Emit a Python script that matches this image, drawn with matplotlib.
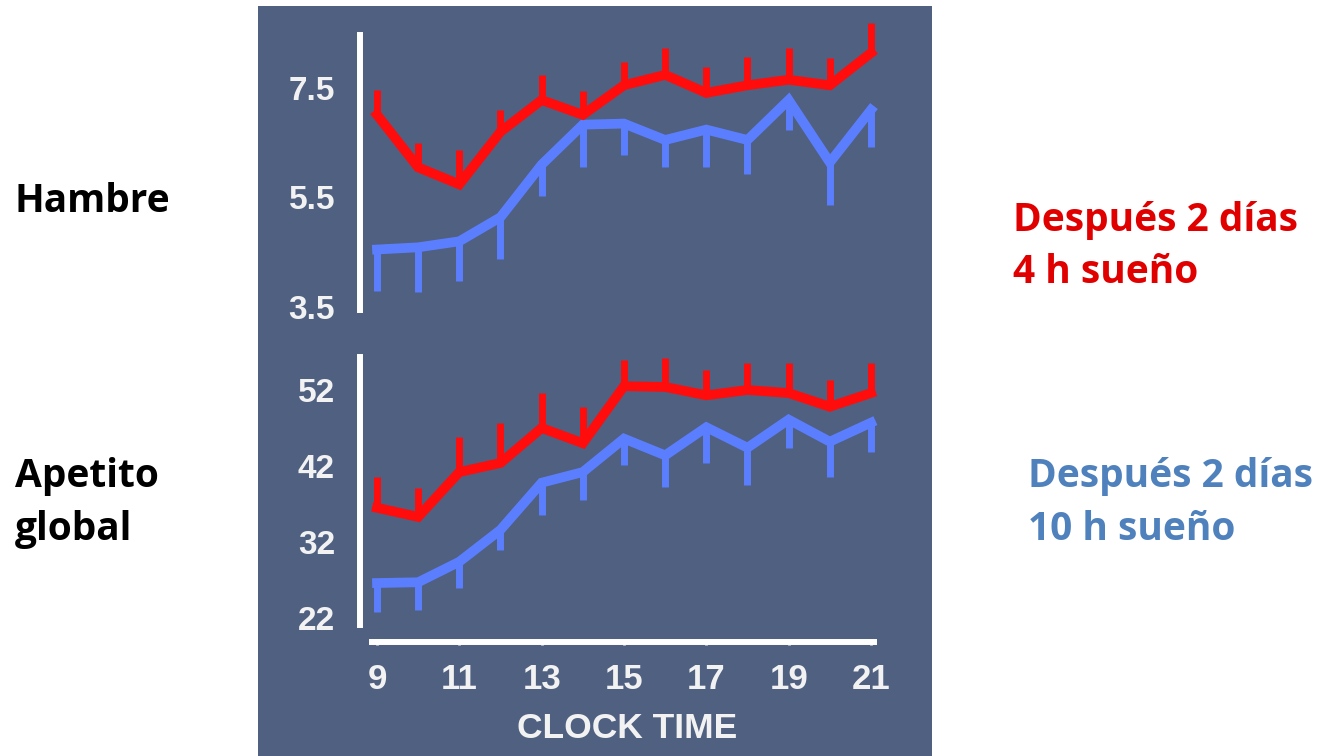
import matplotlib
matplotlib.use("Agg")
import matplotlib.pyplot as plt
from matplotlib.patches import Rectangle

# clock hours
hours = [9, 10, 11, 12, 13, 14, 15, 16, 17, 18, 19, 20, 21]

# hunger (top panel)
hunger_4h = [7.01, 6.05, 5.74, 6.70, 7.28, 7.01, 7.55, 7.74, 7.41, 7.55, 7.65, 7.55, 8.14]
hunger_4h_err = [0.45, 0.45, 0.63, 0.40, 0.46, 0.44, 0.42, 0.49, 0.47, 0.51, 0.58, 0.50, 0.54]
hunger_10h = [4.55, 4.59, 4.70, 5.14, 6.10, 6.83, 6.85, 6.55, 6.74, 6.55, 7.28, 6.14, 7.10]
hunger_10h_err = [0.76, 0.82, 0.73, 0.77, 0.58, 0.77, 0.57, 0.50, 0.69, 0.63, 0.54, 0.77, 0.67]

# global appetite (bottom panel)
appetite_4h = [36.5, 35.3, 41.2, 42.4, 47.0, 45.0, 52.5, 52.4, 51.3, 52.0, 51.6, 49.8, 51.6]
appetite_4h_err = [4.1, 3.8, 4.6, 5.3, 4.6, 4.8, 3.4, 3.8, 3.3, 3.6, 4.0, 3.5, 4.0]
appetite_10h = [26.6, 26.7, 29.4, 33.6, 39.8, 41.2, 45.6, 43.4, 47.1, 44.4, 48.1, 45.2, 47.7]
appetite_10h_err = [3.8, 3.6, 3.5, 2.7, 4.2, 3.7, 3.5, 4.2, 4.7, 4.9, 3.7, 4.6, 3.9]

top_ticks = [3.5, 5.5, 7.5]
bottom_ticks = [22, 32, 42, 52]
x_ticks = [9, 11, 13, 15, 17, 19, 21]

W, H = 1328, 756
PANEL = "#4f6081"
RED = "#ff0d0d"
BLUE = "#5b7eff"
TXT = "#f2f2f2"

fig = plt.figure(figsize=(W / 100, H / 100), dpi=100)
fig.patch.set_facecolor("white")
fig.patches.append(Rectangle((258 / W, 0), (932 - 258) / W, (756 - 6) / H,
                             transform=fig.transFigure, facecolor=PANEL,
                             edgecolor="none", zorder=-10))


def px_axes(left, top, right, bottom):
    return fig.add_axes([left / W, 1 - bottom / H, (right - left) / W, (bottom - top) / H])


def draw_series(ax, y, err, color, up):
    # one-sided error bars: up for the short-sleep curve, down for the long-sleep one
    yerr = [[0] * len(err), err] if up else [err, [0] * len(err)]
    ax.errorbar(hours, y, yerr=yerr, fmt="none", ecolor=color, elinewidth=5,
                capsize=0, zorder=2)
    ax.plot(hours, y, color=color, lw=7, solid_joinstyle="miter", zorder=3)


def style(ax, ylim, bounds, ticks, fmt):
    ax.set_facecolor("none")
    ax.set_xlim(8.587, 21.219)
    ax.set_ylim(*ylim)
    for s in ["top", "right"]:
        ax.spines[s].set_visible(False)
    ax.spines["left"].set_color("white")
    ax.spines["left"].set_linewidth(4.3)
    ax.spines["left"].set_bounds(*bounds)
    ax.set_yticks(ticks)
    ax.set_yticklabels([fmt.format(t) for t in ticks])
    ax.tick_params(axis="y", colors="white", labelcolor=TXT, length=2, width=2,
                   pad=16, labelsize=24)
    for lab in ax.get_yticklabels():
        lab.set_fontweight("bold")
        lab.set_family("Liberation Sans")


ax1 = px_axes(360, 15, 880, 315)
draw_series(ax1, hunger_10h, hunger_10h_err, BLUE, up=False)
draw_series(ax1, hunger_4h, hunger_4h_err, RED, up=True)
style(ax1, (3.354, 8.833), (3.445, 8.468), top_ticks, "{:.1f}")
ax1.spines["bottom"].set_visible(False)
ax1.set_xticks([])

ax2 = px_axes(360, 345, 880, 642)
draw_series(ax2, appetite_10h, appetite_10h_err, BLUE, up=False)
draw_series(ax2, appetite_4h, appetite_4h_err, RED, up=True)
style(ax2, (18.84, 57.92), (21.08, 56.34), bottom_ticks, "{:d}")
ax2.spines["bottom"].set_color("white")
ax2.spines["bottom"].set_linewidth(4.3)
ax2.spines["bottom"].set_bounds(8.879, 21.073)
ax2.set_xticks(x_ticks)
ax2.tick_params(axis="x", colors="white", labelcolor=TXT, length=2, width=2,
                pad=13, labelsize=25)
for lab in ax2.get_xticklabels():
    lab.set_fontweight("bold")
    lab.set_family("Liberation Sans")

fig.text(627 / W, 1 - 729 / H, "CLOCK TIME", ha="center", va="center",
         color=TXT, fontsize=25.5, fontweight="bold", family="Liberation Sans")

side = dict(fontsize=28, fontweight="bold", family="Open Sans", va="baseline",
            linespacing=1.45)
fig.text(15 / W, 1 - 212 / H, "Hambre", color="black", **side)
fig.text(15 / W, 1 - 540 / H, "Apetito\nglobal", color="black", **side)
fig.text(1013 / W, 1 - 283 / H, "Después 2 días\n4 h sueño", color="#e00000", **side)
fig.text(1028 / W, 1 - 540 / H, "Después 2 días\n10 h sueño", color="#4f81bd", **side)

fig.savefig("out.png", dpi=100, facecolor=fig.get_facecolor())
